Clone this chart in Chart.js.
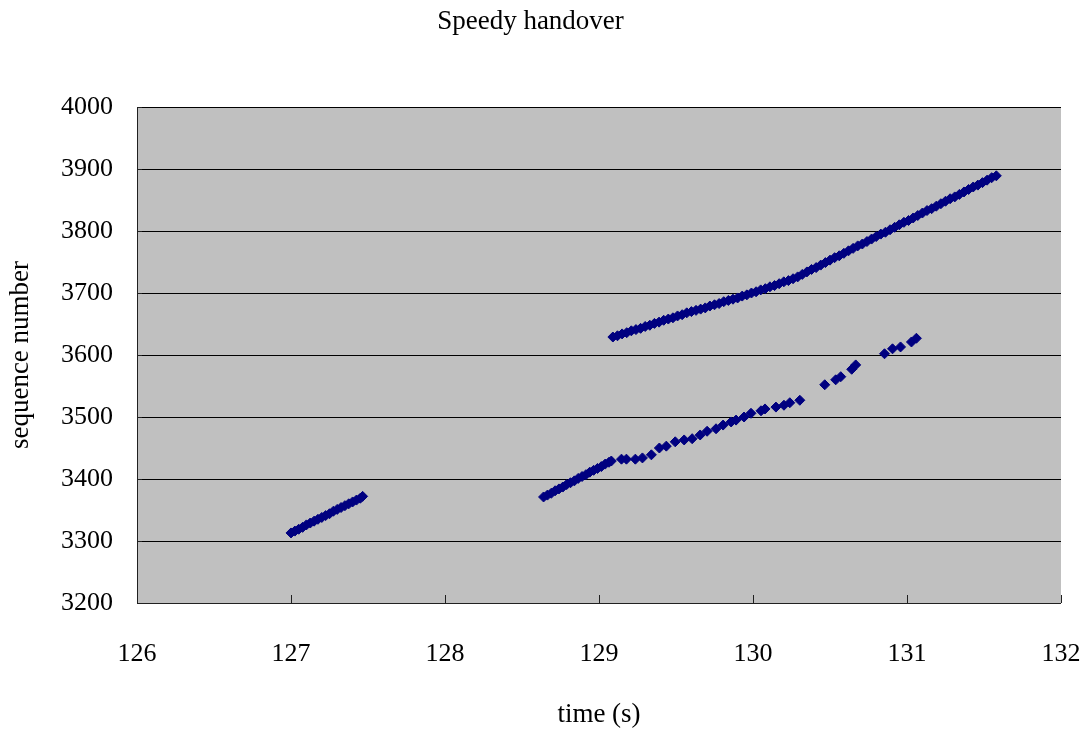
<!DOCTYPE html>
<html>
<head>
<meta charset="utf-8">
<title>Speedy handover</title>
<script src="https://cdn.jsdelivr.net/npm/chart.js@4.4.1/dist/chart.umd.min.js"></script>
<style>
  html, body { margin: 0; padding: 0; background: #fff; }
  #wrap { width: 1089px; height: 731px; position: relative; }
</style>
</head>
<body>
<div id="wrap"><canvas id="seqChart"></canvas></div>
<script>
'use strict';

// axis settings
const xMin = 126, xMax = 132;
const yMin = 3200, yMax = 4000, yStep = 100;

// first burst before the handover
const burstTime = [127.00, 127.025, 127.05, 127.075, 127.10, 127.125, 127.15, 127.175, 127.20, 127.225,
  127.25, 127.275, 127.30, 127.325, 127.35, 127.375, 127.40, 127.425, 127.45, 127.465];
const burstSeq = [3313, 3316, 3319, 3322, 3326, 3329, 3332, 3335, 3338, 3341,
  3344, 3348, 3351, 3354, 3357, 3360, 3363, 3366, 3369, 3372];

// lower trace after the gap, dense part
const lowerTime = [128.64, 128.665, 128.69, 128.715, 128.74, 128.765, 128.79, 128.815, 128.84, 128.865,
  128.89, 128.915, 128.94, 128.965, 128.99, 129.015, 129.04, 129.065, 129.08];
const lowerSeq = [3371, 3374, 3377, 3381, 3384, 3387, 3391, 3394, 3397, 3401,
  3404, 3407, 3411, 3414, 3417, 3420, 3424, 3427, 3429];

// lower trace, sparse packets
const sparseTime = [129.146, 129.178, 129.236, 129.282, 129.340, 129.392, 129.437, 129.495, 129.553, 129.605,
  129.657, 129.702, 129.760, 129.806, 129.858, 129.890, 129.942, 129.987, 130.052, 130.078,
  130.149, 130.201, 130.239, 130.304, 130.466, 130.537, 130.570, 130.641, 130.667, 130.854,
  130.906, 130.958, 131.029, 131.061];
const sparseSeq = [3432, 3432, 3432, 3434, 3439, 3450, 3453, 3460, 3463, 3465,
  3471, 3477, 3481, 3487, 3492, 3495, 3500, 3506, 3510, 3513,
  3516, 3519, 3523, 3527, 3552, 3560, 3565, 3577, 3584, 3602,
  3610, 3613, 3621, 3627];

// upper trace on the new path
const upperTime = [129.09, 129.12, 129.15, 129.18, 129.21, 129.24, 129.27, 129.30, 129.33, 129.36,
  129.39, 129.42, 129.45, 129.48, 129.51, 129.54, 129.57, 129.60, 129.63, 129.66,
  129.69, 129.72, 129.75, 129.78, 129.81, 129.84, 129.87, 129.90, 129.93, 129.96,
  129.99, 130.02, 130.05, 130.08, 130.11, 130.14, 130.17, 130.20, 130.23, 130.26,
  130.29, 130.32, 130.35, 130.38, 130.41, 130.44, 130.47, 130.50, 130.53, 130.56,
  130.59, 130.62, 130.65, 130.68, 130.71, 130.74, 130.77, 130.80, 130.83, 130.86,
  130.89, 130.92, 130.95, 130.98, 131.01, 131.04, 131.07, 131.10, 131.13, 131.16,
  131.19, 131.22, 131.25, 131.28, 131.31, 131.34, 131.37, 131.40, 131.43, 131.46,
  131.49, 131.52, 131.55, 131.58];
const upperSeq = [3629, 3631, 3634, 3636, 3639, 3641, 3643, 3646, 3648, 3651,
  3653, 3656, 3658, 3660, 3663, 3665, 3668, 3670, 3672, 3674,
  3676, 3679, 3681, 3683, 3686, 3688, 3690, 3692, 3695, 3697,
  3700, 3702, 3705, 3707, 3710, 3712, 3715, 3718, 3720, 3723,
  3726, 3730, 3734, 3738, 3741, 3745, 3749, 3753, 3757, 3760,
  3764, 3768, 3772, 3776, 3779, 3783, 3787, 3791, 3795, 3798,
  3802, 3806, 3810, 3814, 3817, 3821, 3825, 3829, 3833, 3836,
  3840, 3844, 3848, 3852, 3855, 3859, 3863, 3867, 3871, 3874,
  3878, 3882, 3886, 3889];

const markColor = '#000080';
const serif = '"Liberation Serif", "Times New Roman", serif';

function toPoints(times, seqs) {
  return times.map((t, i) => ({ x: t, y: seqs[i] }));
}

// dense runs: the packets sit so close that they merge into a band
function markDataset(label, times, seqs, dense) {
  return {
    label: label,
    data: toPoints(times, seqs),
    showLine: dense,
    borderWidth: 6,
    pointStyle: 'rectRot',
    pointRadius: 5,
    pointBorderWidth: 1,
    backgroundColor: markColor,
    borderColor: markColor,
    pointBackgroundColor: markColor,
    pointBorderColor: markColor
  };
}

/**
 * grey plot area and small inward tick marks
 */

const plotDecor = {
  id: 'plotDecor',
  beforeDraw(chart) {
    const { ctx, chartArea: a } = chart;
    ctx.save();
    ctx.fillStyle = '#c0c0c0';
    ctx.fillRect(a.left, a.top, a.right - a.left, a.bottom - a.top);
    ctx.restore();
  },
  afterDatasetsDraw(chart) {
    const { ctx, chartArea: a, scales } = chart;
    ctx.save();
    ctx.strokeStyle = '#202020';
    ctx.lineWidth = 1;
    ctx.beginPath();
    // axis lines
    ctx.moveTo(a.left + 0.5, a.top);
    ctx.lineTo(a.left + 0.5, a.bottom);
    ctx.moveTo(a.left, Math.round(a.bottom) + 0.5);
    ctx.lineTo(a.right, Math.round(a.bottom) + 0.5);
    // x ticks, pointing up
    for (let v = xMin; v <= xMax; v++) {
      const px = Math.round(scales.x.getPixelForValue(v)) + 0.5;
      ctx.moveTo(px, a.bottom);
      ctx.lineTo(px, a.bottom - 8);
    }
    // y ticks, pointing right
    for (let v = yMin; v <= yMax; v += yStep) {
      const py = Math.round(scales.y.getPixelForValue(v)) + 0.5;
      ctx.moveTo(a.left, py);
      ctx.lineTo(a.left + 5, py);
    }
    ctx.stroke();
    ctx.restore();
  }
};

const ctx = document.getElementById('seqChart').getContext('2d');
const seqChart = new Chart(ctx, {
  type: 'scatter',
  data: {
    datasets: [
      markDataset('burst', burstTime, burstSeq, true),
      markDataset('lower', lowerTime, lowerSeq, true),
      markDataset('sparse', sparseTime, sparseSeq, false),
      markDataset('upper', upperTime, upperSeq, true)
    ]
  },
  plugins: [plotDecor],
  options: {
    responsive: true,
    maintainAspectRatio: false,
    animation: false,
    layout: { padding: { left: 0, right: 28, top: 0, bottom: 0 } },
    plugins: {
      legend: { display: false },
      tooltip: { enabled: false },
      title: {
        display: true,
        text: 'Speedy handover',
        color: '#000',
        font: { family: serif, size: 27, weight: 'normal' },
        padding: { top: 6, bottom: 68.6 }
      }
    },
    scales: {
      x: {
        type: 'linear',
        min: xMin,
        max: xMax,
        afterFit(scale) {
          scale.height = 128;
          scale.paddingLeft = 0;
          scale.paddingRight = 0;
        },
        border: { display: false },
        grid: { display: false, drawTicks: false },
        ticks: {
          stepSize: 1,
          padding: 36,
          color: '#000',
          font: { family: serif, size: 26 },
          callback: (v) => String(v)
        },
        title: {
          display: true,
          text: 'time (s)',
          color: '#000',
          font: { family: serif, size: 27 },
          padding: { top: 0, bottom: 0 }
        }
      },
      y: {
        type: 'linear',
        min: yMin,
        max: yMax,
        afterFit(scale) { scale.width = 137; },
        border: { display: false },
        grid: { color: '#000', lineWidth: 1, drawTicks: false },
        ticks: {
          stepSize: yStep,
          padding: 24,
          color: '#000',
          font: { family: serif, size: 26 },
          callback: (v) => String(v)
        },
        title: {
          display: true,
          text: 'sequence number',
          color: '#000',
          font: { family: serif, size: 27 },
          padding: { top: 5, bottom: 0 }
        }
      }
    }
  }
});
</script>
</body>
</html>
